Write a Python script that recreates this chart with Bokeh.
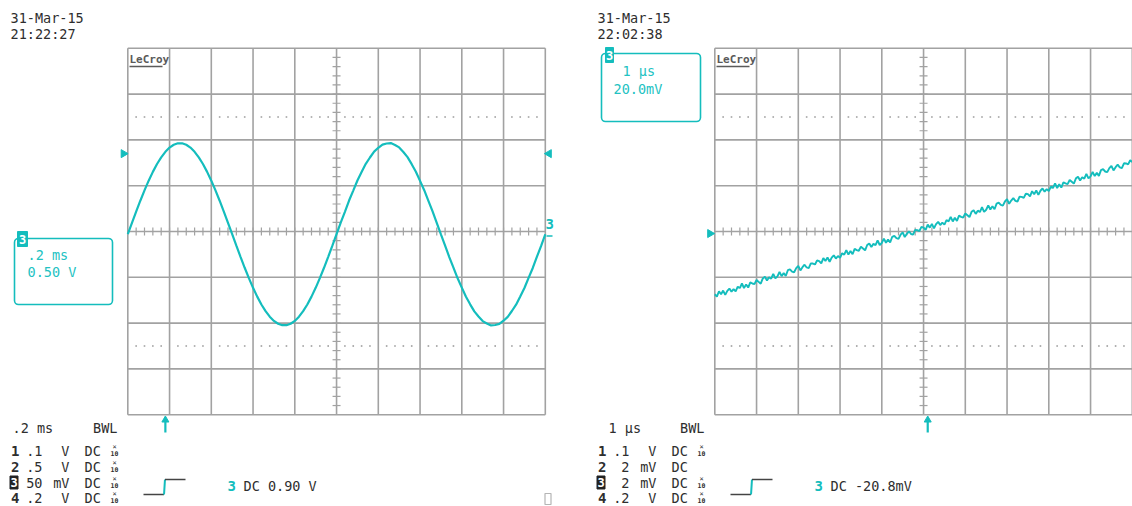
import numpy as np
from bokeh.plotting import figure
from bokeh.models import Range1d, BoxAnnotation
from bokeh.core.properties import value
from bokeh.embed import file_html
from bokeh.resources import INLINE

# ---------------- data ----------------
left_stamp = ["31-Mar-15", "21:22:27"]
right_stamp = ["31-Mar-15", "22:02:38"]

left_box = [".2 ms", "0.50 V"]
right_box = ["1 \u00b5s", "20.0mV"]

left_timebase = ".2 ms"
right_timebase = "1 \u00b5s"

left_ch_values = [".1", ".5", "50", ".2"]
left_ch_units = ["V", "V", "mV", "V"]
left_ch_x10 = [True, True, True, True]
right_ch_values = [".1", "2", "2", ".2"]
right_ch_units = ["V", "mV", "mV", "V"]
right_ch_x10 = [True, False, True, True]

left_trigger_text = "DC 0.90 V"
right_trigger_text = "DC -20.8mV"

# left scope: channel 3, 0.2 ms/div, 0.5 V/div (volts, sample every 0.02 ms)
sine_dt_ms = 0.02
sine_v = [-0.030, 0.095, 0.217, 0.336, 0.449, 0.555, 0.651, 0.737, 0.810, 0.870,
          0.916, 0.947, 0.963, 0.963, 0.947, 0.916, 0.870, 0.810, 0.737, 0.651,
          0.555, 0.449, 0.336, 0.217, 0.095, -0.030, -0.155, -0.277, -0.396, -0.509,
          -0.615, -0.711, -0.797, -0.870, -0.930, -0.976, -1.007, -1.023, -1.023, -1.007,
          -0.976, -0.930, -0.870, -0.797, -0.711, -0.615, -0.509, -0.396, -0.277, -0.155,
          -0.028, 0.097, 0.215, 0.338, 0.447, 0.557, 0.649, 0.739, 0.808, 0.872,
          0.914, 0.949, 0.961, 0.965, 0.945, 0.918, 0.868, 0.812, 0.735, 0.653,
          0.553, 0.451, 0.334, 0.219, 0.093, -0.032, -0.153, -0.279, -0.394, -0.511,
          -0.613, -0.713, -0.795, -0.872, -0.928, -0.978, -1.005, -1.025, -1.021, -1.009,
          -0.974, -0.932, -0.868, -0.799, -0.709, -0.617, -0.507, -0.398, -0.275, -0.157,
          -0.030]
left_trig_level_v = 0.85
left_trig_time_ms = 0.18

# right scope: channel 3, 1 us/div, 20 mV/div (mV, sample every 0.05 us)
ramp_dt_us = 0.05
ramp_mv = [-27.4, -28.4, -26.1, -27.4, -25.8, -27.7, -25.9, -24.9, -26.3, -25.2,
           -26.1, -24.1, -24.7, -22.7, -24.7, -23.1, -24.5, -22.2, -22.7, -23.0,
           -21.2, -22.0, -22.8, -20.5, -19.8, -21.4, -20.0, -20.6, -18.5, -20.5,
           -19.6, -17.7, -19.5, -18.1, -19.4, -16.9, -16.5, -17.5, -17.8, -16.0,
           -15.0, -17.0, -15.6, -14.5, -15.7, -16.0, -13.9, -14.0, -14.4, -12.6,
           -12.9, -13.9, -11.6, -12.9, -11.3, -13.2, -11.4, -10.4, -11.8, -10.7,
           -11.5, -9.5, -10.1, -8.1, -10.1, -8.5, -9.9, -7.6, -8.1, -8.4,
           -6.6, -7.4, -8.2, -5.9, -5.2, -6.8, -5.4, -6.0, -3.9, -5.9,
           -5.0, -3.1, -4.9, -3.5, -4.8, -2.3, -1.9, -2.9, -3.2, -1.4,
           -0.4, -2.4, -1.0, 0.1, -1.1, -1.4, 0.7, 0.6, 0.2, 2.0,
           1.7, 0.7, 3.0, 1.7, 3.3, 1.4, 3.2, 4.2, 2.8, 3.9,
           3.0, 5.0, 4.4, 6.4, 4.4, 6.0, 4.6, 6.9, 6.4, 6.1,
           7.9, 7.1, 6.3, 8.6, 9.3, 7.7, 9.1, 8.5, 10.6, 8.6,
           9.5, 11.4, 9.6, 11.0, 9.7, 12.2, 12.6, 11.6, 11.3, 13.1,
           14.1, 12.1, 13.5, 14.6, 13.4, 13.1, 15.2, 15.1, 14.7, 16.5,
           16.3, 15.3, 17.6, 16.3, 17.9, 16.0, 17.8, 18.8, 17.4, 18.5,
           17.6, 19.6, 19.0, 21.0, 19.0, 20.6, 19.2, 21.5, 21.0, 20.7,
           22.5, 21.7, 20.9, 23.2, 23.9, 22.3, 23.7, 23.1, 25.2, 23.2,
           24.1, 26.0, 24.2, 25.6, 24.3, 26.8, 27.2, 26.2, 25.9, 27.7,
           28.7, 26.7, 28.1, 29.2, 28.0, 27.7, 29.8, 29.7, 29.3, 31.1,
           30.3]
right_trig_level_mv = -0.9
right_trig_time_us = 5.1

# ---------------- style ----------------
FONT = "DejaVu Sans Mono"
GRID = "#a2a2a2"
DOT = "#9c9c9c"
DARK = "#2e2e2e"
CYAN = "#14bdbd"
CYAN_TXT = "#22c2c2"
W, H = 1132, 506

p = figure(width=W, height=H, output_backend="svg", toolbar_location=None,
           x_range=Range1d(-0.60982, 4.81293), y_range=Range1d(-3.00218, 2.52183),
           x_axis_location=None, y_axis_location=None, min_border=0,
           background_fill_color="white", border_fill_color="white",
           outline_line_color=None)
p.grid.visible = False
p.extra_x_ranges = {"r": Range1d(-17.1090, 10.00479), "px": Range1d(0, 1132)}
p.extra_y_ranges = {"r": Range1d(-120.087, 100.873), "px": Range1d(506, 0)}


def draw_grid(xmax, xdiv, ydiv, xr, yr):
    ymax = 4 * ydiv
    xs = [i * xdiv for i in range(11)]
    ys = [j * ydiv for j in range(-4, 5)]
    p.segment(x0=xs, y0=[-ymax] * 11, x1=xs, y1=[ymax] * 11, line_color=GRID,
              line_width=1.6, x_range_name=xr, y_range_name=yr)
    p.segment(x0=[0] * 9, y0=ys, x1=[xmax] * 9, y1=ys, line_color=GRID,
              line_width=1.6, x_range_name=xr, y_range_name=yr)
    # centre-cross minor ticks
    tx = [k * xdiv / 5 for k in range(1, 50)]
    p.scatter(x=tx, y=[0] * len(tx), marker="dash", size=8, angle=np.pi / 2,
              line_color=GRID, line_width=1.2, x_range_name=xr, y_range_name=yr)
    ty = [k * ydiv / 5 for k in range(-19, 20)]
    p.scatter(x=[xmax / 2] * len(ty), y=ty, marker="dash", size=8,
              line_color=GRID, line_width=1.2, x_range_name=xr, y_range_name=yr)
    # dotted lines at +/- 2.5 div
    dx = [k * xdiv / 5 for k in range(1, 50) if k % 5 != 0]
    for lv in (2.5 * ydiv, -2.5 * ydiv):
        p.scatter(x=dx, y=[lv] * len(dx), marker="square", size=1.6,
                  fill_color=DOT, line_color=None, x_range_name=xr, y_range_name=yr)


draw_grid(2.0, 0.2, 0.5, "default", "default")
draw_grid(10.0, 1.0, 20.0, "r", "r")

# traces
sine_t = np.arange(len(sine_v)) * sine_dt_ms
p.line(sine_t, sine_v, line_color=CYAN, line_width=2.2)
ramp_t = np.arange(len(ramp_mv)) * ramp_dt_us
p.line(ramp_t, ramp_mv, line_color=CYAN, line_width=1.9,
       x_range_name="r", y_range_name="r")


def txt(x, y, s, color=DARK, size="13.5px", bold=False, align="left",
        xr="px", yr="px"):
    p.text(x=[x], y=[y], text=[s], text_font=value(FONT),
           text_font_size=value(size), text_color=color, text_align=align,
           text_baseline="middle", text_font_style="bold" if bold else "normal",
           x_range_name=xr, y_range_name=yr)


def seg(x0, y0, x1, y1, color=DARK, w=1.5, xr="px", yr="px"):
    p.segment(x0=[x0], y0=[y0], x1=[x1], y1=[y1], line_color=color,
              line_width=w, x_range_name=xr, y_range_name=yr)


def tri(x, y, ang, xr, yr, size=8):
    p.scatter(x=[x], y=[y], marker="triangle", size=size, angle=ang,
              fill_color=CYAN, line_color=CYAN, x_range_name=xr, y_range_name=yr)


def panel(off, stamp, box_lines, box_rect, tag_rect, box_text_x, box_text_y,
          timebase, tb_x, bwl_right, values, units, x10, trig_text, logo_x):
    # time stamp
    txt(off + 10, 17.5, stamp[0])
    txt(off + 10, 33, stamp[1])
    # LeCroy logo
    txt(logo_x, 59, "LeCroy", color="#5a5a5a", size="11px", bold=True)
    seg(logo_x, 66, logo_x + 33, 66, color="#5a5a5a", w=1.5)
    # trace label box (drawn beneath the glyphs so the tag sits on top)
    l, r, t, b = box_rect
    p.add_layout(BoxAnnotation(left=l, right=r, top=t, bottom=b,
                               x_range_name="px", y_range_name="px",
                               fill_alpha=0, line_color=CYAN, line_alpha=1.0,
                               line_width=1.6, border_radius=4,
                               level="underlay"))
    tl, tr_, tt, tb = tag_rect
    p.quad(left=[tl], right=[tr_], top=[tt], bottom=[tb], fill_color=CYAN,
           line_color=CYAN, x_range_name="px", y_range_name="px")
    txt((tl + tr_) / 2, (tt + tb) / 2 + 0.5, "3", color="white", size="12px",
        bold=True, align="center")
    txt(box_text_x[0], box_text_y[0], box_lines[0], color=CYAN_TXT)
    txt(box_text_x[1], box_text_y[1], box_lines[1], color=CYAN_TXT)
    # bottom status block
    txt(tb_x, 427, timebase)
    txt(bwl_right, 427, "BWL", align="right")
    rows = [450, 466, 482, 497]
    for i, yy in enumerate(rows):
        if i == 2:
            p.quad(left=[off + 9.5], right=[off + 17.5], top=[yy - 6.5],
                   bottom=[yy + 6.5], fill_color="#222222", line_color="#222222",
                   x_range_name="px", y_range_name="px")
            txt(off + 13.5, yy, "3", color="white", size="12px", bold=True,
                align="center")
        else:
            txt(off + 10.5, yy, str(i + 1), size="14px", bold=True)
        txt(off + 42, yy, values[i], align="right")
        txt(off + 69, yy, units[i], align="right")
        txt(off + 84, yy, "DC")
        if x10[i]:
            txt(off + 114, yy - 3.5, "\u00d7", size="7px", align="center")
            txt(off + 114, yy + 3, "10", size="6.5px", bold=True, align="center")
    # trigger slope icon
    seg(off + 143, 494, off + 163.5, 494, color="#444444", w=1.5)
    seg(off + 163.5, 494, off + 164.5, 479, color=CYAN, w=2)
    seg(off + 164.5, 479, off + 185, 479, color="#444444", w=1.5)
    txt(off + 227, 485, "3", color=CYAN, size="14px", bold=True)
    txt(off + 243, 485, trig_text)


panel(0, left_stamp, left_box, (14, 112, 238, 304), (17, 27, 231, 246), (27, 27),
      (254, 271), left_timebase, 12, 117, left_ch_values, left_ch_units,
      left_ch_x10, left_trigger_text, 129)
panel(587, right_stamp, right_box, (601, 700, 53, 121), (605, 613, 47, 62),
      (622, 613), (70.5, 88), right_timebase, 608, 704, right_ch_values,
      right_ch_units, right_ch_x10, right_trigger_text, 716)

# trigger level markers
tri(123, left_trig_level_v, -np.pi / 2, "px", "default")
tri(548.5, left_trig_level_v, np.pi / 2, "px", "default")
tri(709.5, right_trig_level_mv, -np.pi / 2, "px", "r")
# trace ground marker on left screen
txt(545, 223.5, "3", color=CYAN, size="14px", bold=True)
seg(546, 235.5, 552, 235.5, color=CYAN, w=1.5)

# trigger time arrows
p.segment(x0=[left_trig_time_ms], y0=[421], x1=[left_trig_time_ms], y1=[432],
          line_color=CYAN, line_width=2.2, y_range_name="px")
p.scatter(x=[left_trig_time_ms], y=[419.5], marker="triangle", size=7,
          fill_color=CYAN, line_color=CYAN, y_range_name="px")
p.segment(x0=[right_trig_time_us], y0=[421], x1=[right_trig_time_us], y1=[432],
          line_color=CYAN, line_width=2.2, x_range_name="r", y_range_name="px")
p.scatter(x=[right_trig_time_us], y=[419.5], marker="triangle", size=7,
          fill_color=CYAN, line_color=CYAN, x_range_name="r", y_range_name="px")

# small square icon
p.quad(left=[544.5], right=[550.5], top=[493], bottom=[504], fill_color=None,
       line_color="#b5b5b5", line_width=1.2, x_range_name="px", y_range_name="px")

open("out.html", "w").write(file_html(p, INLINE))
